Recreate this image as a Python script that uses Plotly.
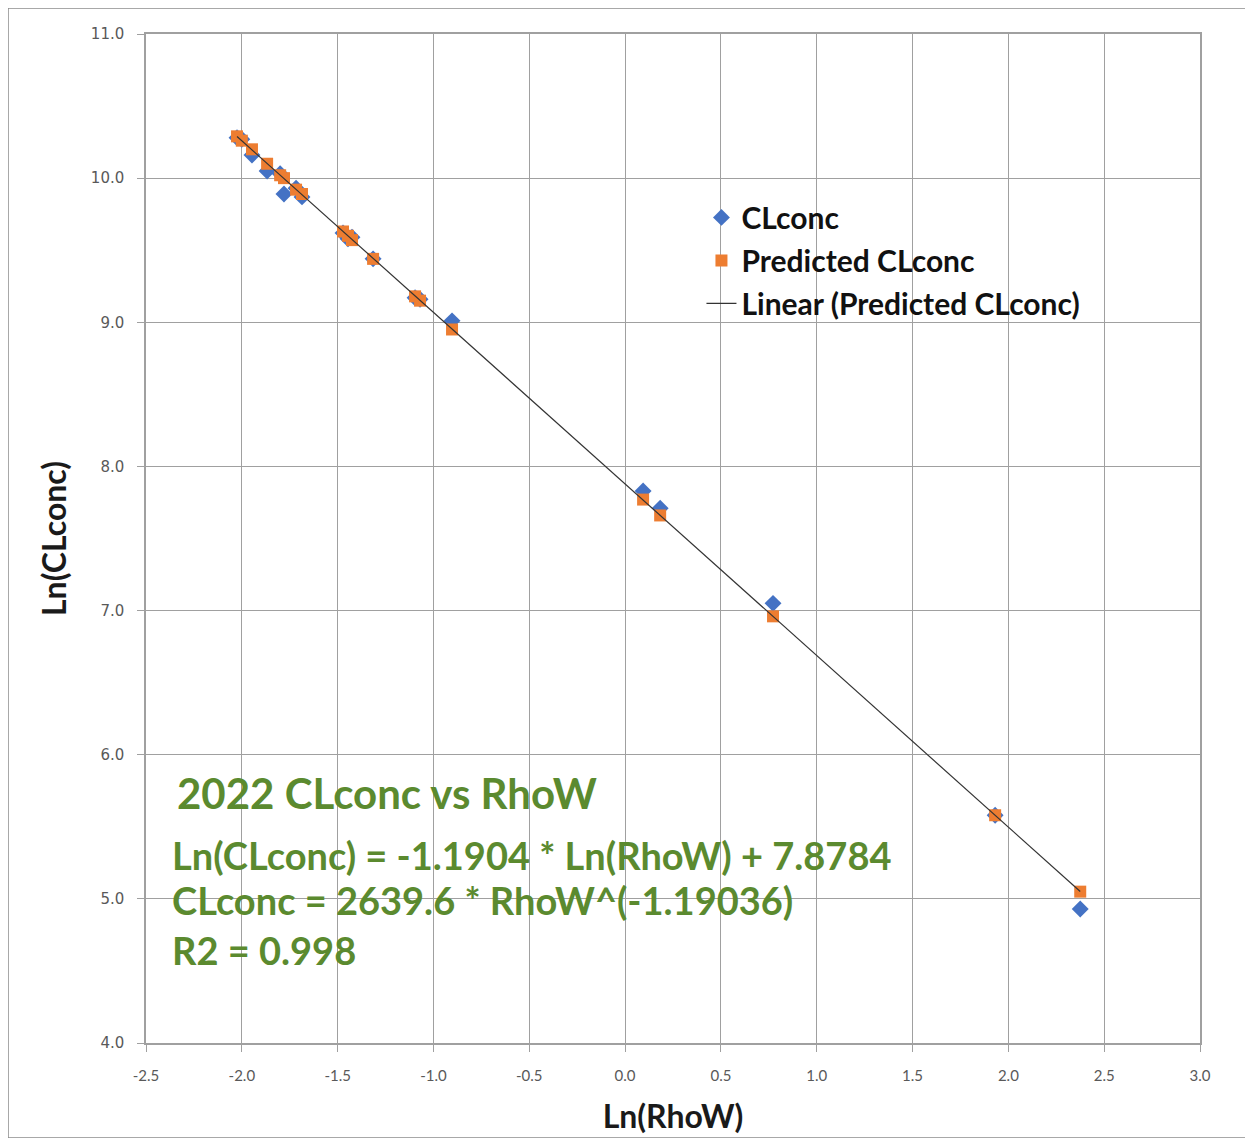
import numpy as np
import plotly.graph_objects as go

# ---- data ----
ln_rhow = [-2.025, -2.00, -1.947, -1.868, -1.80, -1.78, -1.717, -1.686, -1.472, -1.446,
           -1.425, -1.315, -1.096, -1.07, -0.903, 0.094, 0.183, 0.772, 1.931, 2.375]
ln_clconc = [10.28, 10.27, 10.16, 10.05, 10.03, 9.89, 9.93, 9.87, 9.62, 9.58,
             9.59, 9.44, 9.17, 9.16, 9.01, 7.83, 7.71, 7.05, 5.58, 4.93]
ln_pred = [10.29, 10.26, 10.20, 10.10, 10.02, 10.00, 9.92, 9.89, 9.63, 9.60,
           9.57, 9.44, 9.18, 9.15, 8.95, 7.77, 7.66, 6.96, 5.58, 5.05]
trend_slope = -1.1904
trend_intercept = 7.8784

series_names = ["CLconc", "Predicted CLconc", "Linear (Predicted CLconc)"]

x_ticks = [-2.5, -2.0, -1.5, -1.0, -0.5, 0.0, 0.5, 1.0, 1.5, 2.0, 2.5, 3.0]
x_tick_labels = ["-2.5", "-2.0", "-1.5", "-1.0", "-0.5", "0.0", "0.5", "1.0", "1.5", "2.0", "2.5", "3.0"]
y_ticks = [4.0, 5.0, 6.0, 7.0, 8.0, 9.0, 10.0, 11.0]
y_tick_labels = ["4.0", "5.0", "6.0", "7.0", "8.0", "9.0", "10.0", "11.0"]

title_text = "2022 CLconc vs RhoW"
eq_lines = ["Ln(CLconc) = -1.1904 * Ln(RhoW) + 7.8784",
            "CLconc = 2639.6 * RhoW^(-1.19036)",
            "R2 = 0.998"]

# page has an 8px body margin
W, H = 1245, 1130
L, R, T, B = 138, 53, 26, 95
PW, PH = W - L - R, H - T - B

trend_x = np.array([min(ln_rhow), max(ln_rhow)])
trend_y = trend_slope * trend_x + trend_intercept

fig = go.Figure()
fig.add_trace(go.Scatter(x=ln_rhow, y=ln_clconc, mode="markers", name=series_names[0],
                         legendgroup="a",
                         marker=dict(symbol="diamond", size=13, color="#4472C4")))
fig.add_trace(go.Scatter(x=ln_rhow, y=ln_pred, mode="markers", name=series_names[1],
                         legendgroup="b",
                         marker=dict(symbol="square", size=12, color="#ED7D31")))
fig.add_trace(go.Scatter(x=trend_x, y=trend_y, mode="lines", name=series_names[2],
                         legendgroup="c",
                         line=dict(color="#333333", width=1.2)))

green = "#5B8A2F"
fig.add_annotation(x=-2.349, y=5.733, xref="x", yref="y", text="<b>%s</b>" % title_text,
                   showarrow=False, xanchor="left", yanchor="middle",
                   font=dict(family="Lato", size=42, color=green))
eq_y = [5.303, 4.99, 4.643]
for txt, yy in zip(eq_lines, eq_y):
    fig.add_annotation(x=-2.375, y=yy, xref="x", yref="y", text="<b>%s</b>" % txt,
                       showarrow=False, xanchor="left", yanchor="middle",
                       font=dict(family="Lato", size=38, color=green))

# outer frame
fig.add_shape(type="rect", xref="paper", yref="paper",
              x0=(0 - L) / PW, x1=(W - 1 - L) / PW,
              y0=(T + PH - H) / PH, y1=(T + PH) / PH,
              line=dict(color="#8c8c8c", width=1.5), layer="below")

axis_common = dict(showgrid=True, gridcolor="#a0a0a0", gridwidth=1.2,
                   showline=True, linecolor="#a0a0a0", linewidth=1.5,
                   ticks="outside", ticklen=7, tickcolor="#a0a0a0",
                   zeroline=False, mirror=True, automargin=False)

fig.update_xaxes(range=[-2.5, 3.0], tickvals=x_ticks, ticktext=x_tick_labels, **axis_common,
                 ticklabelstandoff=11,
                 tickfont=dict(family="Lato", size=15, color="#595959"),
                 title=dict(text="<b>Ln(RhoW)</b>", standoff=23,
                            font=dict(family="Lato", size=32, color="#1a1a1a")))
fig.update_yaxes(range=[4.0, 11.0], tickvals=y_ticks, ticktext=y_tick_labels, **axis_common,
                 ticklabelstandoff=10,
                 tickfont=dict(family="DejaVu Sans", size=15, color="#595959"),
                 title=dict(text="<b>Ln(CLconc)</b>", standoff=15,
                            font=dict(family="Lato", size=32, color="#1a1a1a")))

fig.update_layout(width=W, height=H, margin=dict(l=L, r=R, t=T, b=B),
                  paper_bgcolor="white", plot_bgcolor="white",
                  legend=dict(x=0.527, y=0.844, xanchor="left", yanchor="top",
                              bgcolor="rgba(0,0,0,0)", tracegroupgap=1,
                              font=dict(family="Lato", size=30, color="#111111",
                                        weight="bold")),
                  showlegend=True)

fig.write_html("out.html")
